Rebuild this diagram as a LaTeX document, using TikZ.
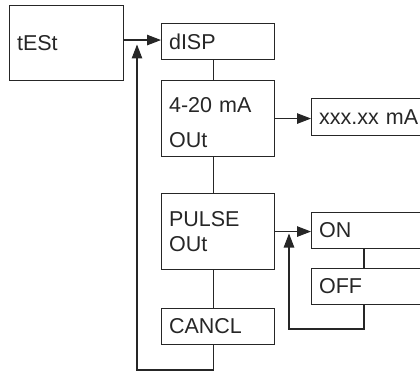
\documentclass[tikz,border=0pt]{standalone}
\usepackage{fontspec}
\setmainfont{Liberation Sans}
\usetikzlibrary{arrows.meta}
\definecolor{ink}{HTML}{262626}
\tikzset{
  box/.style={draw=ink, text=ink, line width=1.1pt, rectangle, anchor=north west,
    inner xsep=7.5pt, inner ysep=0pt, align=left, text width=#1,
    font=\fontsize{21.5}{25}\selectfont},
  box/.default=98pt,
  wire/.style={draw=ink, line width=1.1pt},
  arr/.style={wire, -{Triangle[length=14pt,width=10.5pt]}}
}
\begin{document}
\begin{tikzpicture}[x=1pt,y=-1pt]
\useasboundingbox (0,0) rectangle (420,374);
\clip (0,0) rectangle (420,374);
\node[box=99pt, minimum height=75pt] (tEst) at (9,5) {tESt};
\node[box, minimum height=36pt] (dISP) at (161,23) {dISP};
\node[box, minimum height=76pt] (mA) at (161,80) {\rule{0pt}{23pt}4-20 mA\\[10pt]OUt};
\node[box, minimum height=76pt] (pulse) at (161,193) {PULSE\\OUt};
\node[box, minimum height=36pt] (cancl) at (161,308) {CANCL};
\node[box=115pt, minimum height=37pt] (xxx) at (311,98) {xxx.xx mA};
\node[box=115pt, minimum height=36pt] (on) at (311,212) {ON};
\node[box=115pt, minimum height=36pt] (off) at (311,268) {OFF};
\coordinate (loopL) at (137,370);
\coordinate (ret1) at (137,44.5);
\coordinate (loopR) at (289,329);
\coordinate (ret2) at (289,233.5);
% main arrows
\draw[arr] (tEst.east |- dISP.west) ++(0,-1.5) coordinate (a1) -- (a1 -| dISP.west);
\draw[arr] (mA.east) -- (mA.east -| xxx.west);
\draw[arr] (pulse.east) -- (pulse.east -| on.west);
% vertical chain
\draw[wire] ([xshift=-4.5pt]dISP.south) -- ([xshift=-4.5pt]mA.north);
\draw[wire] ([xshift=-4.5pt]mA.south) -- ([xshift=-4.5pt]pulse.north);
\draw[wire] ([xshift=-4.5pt]pulse.south) -- ([xshift=-4.5pt]cancl.north);
\draw[arr] ([xshift=-4.5pt]cancl.south) |- (loopL) -- (ret1);
% on/off
\draw[wire] ([xshift=53pt]on.south west) -- ([xshift=53pt]off.north west);
\draw[arr] ([xshift=53pt]off.south west) |- (loopR) -- (ret2);
\end{tikzpicture}
\end{document}
